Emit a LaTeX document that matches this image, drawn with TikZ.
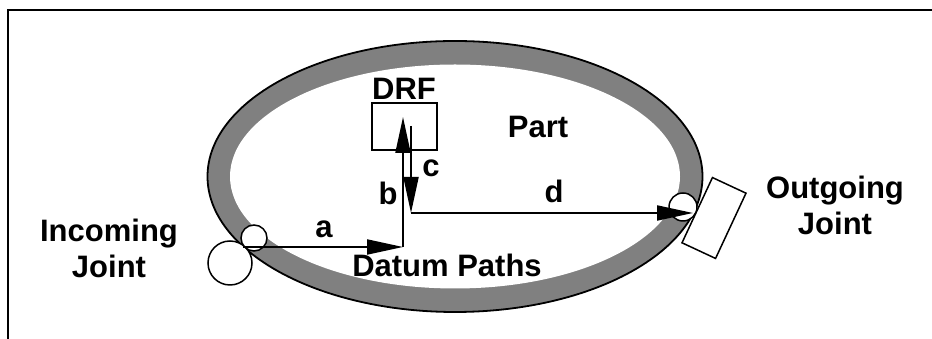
\documentclass[tikz,border=0pt]{standalone}
\usepackage{fontspec}
\setmainfont{Liberation Sans}
\usetikzlibrary{arrows.meta}
\definecolor{band}{RGB}{128,128,128}
\begin{document}
\begin{tikzpicture}[x=1pt,y=1pt,
  lbl/.style={font=\bfseries\fontsize{31}{36}\selectfont, inner sep=0pt},
  ln/.style={line width=2pt},
  arr/.style={ln,-{Triangle[length=36pt,width=15pt]}},
  joint/.style={circle, draw, fill=white, line width=1.5pt, inner sep=0pt},
  boxn/.style={draw, line width=1.5pt, inner sep=0pt}]
\useasboundingbox (0,0) rectangle (932,339);
% frame
\draw[line width=2pt] (8,-2) -- (8,328.5) -- (934,328.5);
% part ring
\fill[band] (455,162.5) ellipse [x radius=247.5, y radius=135.5];
\fill[white] (455,162.5) ellipse [x radius=225, y radius=112];
\draw[line width=1.8pt] (455,162.5) ellipse [x radius=247.5, y radius=135.5];
% incoming joint
\node[joint, minimum size=44pt] (jbig) at (230,76) {};
\node[joint, minimum size=26pt] (jin) at (254,101) {};
% DRF box
\node[boxn, minimum width=65pt, minimum height=47pt] (drf) at (404.5,212.5) {};
% outgoing joint
\node[joint, minimum size=28pt] (jout) at (683,132) {};
% path points
\coordinate (astart) at (243,92);
\coordinate (corner) at (403,92);
\coordinate (btip) at (403,222);
\coordinate (ctop) at (411,213);
\coordinate (cbot) at (411,126);
\coordinate (dtip) at (693,126);
\draw[arr] (astart) -- (corner);
\draw[arr] (corner) -- (btip);
\draw[arr] (ctop) -- (cbot);
\draw[arr] (cbot) -- (dtip);
\node[boxn, fill=white, minimum width=37pt, minimum height=72pt, rotate=-25] (jrect) at (714,121) {};
% labels
\node[lbl, anchor=base] (tdrf) at (404,239) {DRF};
\node[lbl, anchor=base] (tpart) at (538,201) {Part};
\node[lbl, anchor=base] (ta) at (324,101) {a};
\node[lbl, anchor=base] (tb) at (388,134) {b};
\node[lbl, anchor=base] (tc) at (431,162) {c};
\node[lbl, anchor=base] (td) at (554,136) {d};
\node[lbl, anchor=base] (tdp) at (447,62) {Datum Paths};
\node[lbl, align=center] (tin) at (109,91) {Incoming\\Joint};
\node[lbl, align=center] (tout) at (835,134) {Outgoing\\Joint};
\end{tikzpicture}
\end{document}
